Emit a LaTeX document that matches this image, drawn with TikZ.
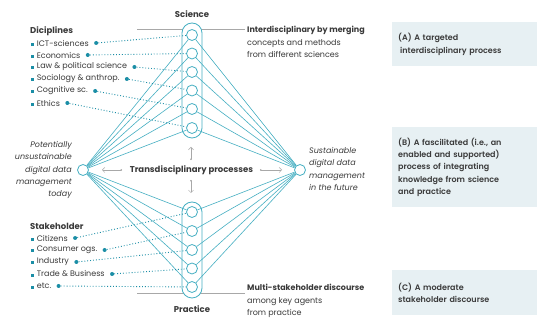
\documentclass[tikz,border=0pt]{standalone}
\usepackage{fontspec}
\setmainfont{Poppins}
\newfontfamily\mediumfont{Poppins SemiBold}
\usetikzlibrary{arrows.meta, positioning}
\definecolor{tealline}{HTML}{45AFC2}
\definecolor{tealdot}{HTML}{1B8EA6}
\definecolor{inktext}{HTML}{3A3A3A}
\definecolor{rulegray}{HTML}{A8A8A8}
\definecolor{boxfill}{HTML}{E7F0F3}
\newcommand{\bul}{\textcolor{tealdot}{\rule{2.6pt}{2.6pt}}\hspace{3pt}}

\begin{document}
\begin{tikzpicture}[x=1pt, y=-1pt,
    every node/.style={text=inktext, font=\fontsize{8}{12}\selectfont},
    hub/.style={circle, draw=tealline, line width=0.8pt, fill=white, minimum size=11pt, inner sep=0pt},
    capsule/.style={draw=tealline, line width=0.8pt, fill=white, rounded corners=10pt, minimum width=20pt, inner sep=0pt},
    title/.style={font=\fontsize{8.5}{12}\selectfont\bfseries},
    head/.style={anchor=west, inner sep=0pt, font=\fontsize{8.5}{12}\selectfont\bfseries},
    item/.style={anchor=west, inner sep=0pt},
    note/.style={inner sep=0pt, font=\fontsize{8}{12.3}\selectfont\itshape},
    desc/.style={anchor=north west, align=left, inner sep=0pt, font=\fontsize{8}{12.4}\selectfont},
    dot/.style={circle, fill=tealdot, minimum size=4pt, inner sep=0pt},
    link/.style={tealdot, dotted, line width=0.9pt},
    ray/.style={tealline, line width=0.6pt},
    guide/.style={rulegray, line width=0.6pt},
    flow/.style={{Circle[length=1.6pt]}-{Straight Barb[length=2.5pt, width=5pt]}, rulegray, line width=0.5pt},
    infobox/.style={fill=boxfill, anchor=north west, align=left, minimum width=145pt, text width=133pt, inner xsep=6pt, font=\fontsize{8}{12.4}\selectfont\mediumfont}
]
\fill[white] (0,0) rectangle (550,328);
\useasboundingbox (0,0) rectangle (550,328);

% guide lines to the right-hand notes
\coordinate (scil) at (137,29.5);
\coordinate (scir) at (245,29.5);
\coordinate (pral) at (137,293);
\coordinate (prar) at (245,293);
\draw[guide] (scil) -- (scir);
\draw[guide] (pral) -- (prar);

% the two columns
\node[capsule, minimum height=115pt] (scibox) at (192,80.5) {};
\node[capsule, minimum height=96pt] (prabox) at (192,250) {};
\node[title, above=1pt of scibox] (sci) {Science};
\node[title, below=4pt of prabox] (pra) {Practice};

\foreach \i/\y in {1/35,2/53.5,3/72,4/90.5,5/109,6/128}
    \node[hub] (sci\i) at (192,\y) {};
\foreach \i/\y in {1/212,2/231,3/250,4/268.5,5/287}
    \node[hub] (pra\i) at (192,\y) {};

\node[hub] (src) at (83,170) {};
\node[hub] (dst) at (300,170) {};

\foreach \n in {sci1,sci2,sci3,sci4,sci5,sci6,pra1,pra2,pra3,pra4,pra5} {
    \draw[ray] (src) -- (\n);
    \draw[ray] (dst) -- (\n);
}

% disciplines
\node[head] (disc) at (30,31) {Diciplines};
\node[item] (ict) at (31,43) {\bul ICT-sciences};
\node[item] (eco) at (31,55) {\bul Economics};
\node[item] (law) at (31,67) {\bul Law \& political science};
\node[item] (soc) at (31,79) {\bul Sociology \& anthrop.};
\node[item] (cog) at (31,91) {\bul Cognitive sc.};
\node[item] (eth) at (31,103) {\bul Ethics};

% stakeholders
\node[head] (stake) at (30,226) {Stakeholder};
\node[item] (cit) at (31,238) {\bul Citizens};
\node[item] (con) at (31,250) {\bul Consumer ogs.};
\node[item] (ind) at (31,262) {\bul Industry};
\node[item] (tra) at (31,274) {\bul Trade \& Business};
\node[item] (etc) at (31,286) {\bul etc.};

\foreach \a/\b in {ict/sci1,eco/sci2,law/sci3,soc/sci4,cog/sci5,eth/sci6,cit/pra1,con/pra2,ind/pra3,tra/pra4,etc/pra5} {
    \node[dot, right=5pt of \a] (\a dot) {};
    \draw[link] (\a dot) -- (\b);
}

% start and goal
\node[note, anchor=east, align=right] (today) at (72,170) {Potentially\\unsustainable\\digital data\\management\\today};
\node[note, anchor=west, align=left] (future) at (309,169) {Sustainable\\digital data\\management\\in the future};

% centre
\node[title] (trans) at (191.5,170) {Transdisciplinary processes};
\coordinate (upa) at (191,160);
\coordinate (upb) at (191,147);
\coordinate (dna) at (191,180);
\coordinate (dnb) at (191,193);
\coordinate (lfa) at (122,170);
\coordinate (lfb) at (102,170);
\coordinate (rta) at (260,170);
\coordinate (rtb) at (282,170);
\draw[flow] (upa) -- (upb);
\draw[flow] (dna) -- (dnb);
\draw[flow] (lfa) -- (lfb);
\draw[flow] (rta) -- (rtb);

% notes
\node[desc] (inter) at (247,26) {\textbf{Interdisciplinary by merging}\\concepts and methods\\from different sciences};
\node[desc] (multi) at (247,284) {\textbf{Multi-stakeholder discourse}\\among key agents\\from practice};

% right-hand boxes
\node[infobox, minimum height=44pt] (boxa) at (392,22) {(A) A targeted\\\hspace{2pt}interdisciplinary process};
\node[infobox, minimum height=80pt] (boxb) at (392,127) {(B) A fascilitated (i.e., an\\enabled and supported)\\process of integrating\\knowledge from science\\and practice};
\node[infobox, minimum height=45pt] (boxc) at (392,270) {(C) A moderate\\stakeholder discourse};
\end{tikzpicture}
\end{document}
